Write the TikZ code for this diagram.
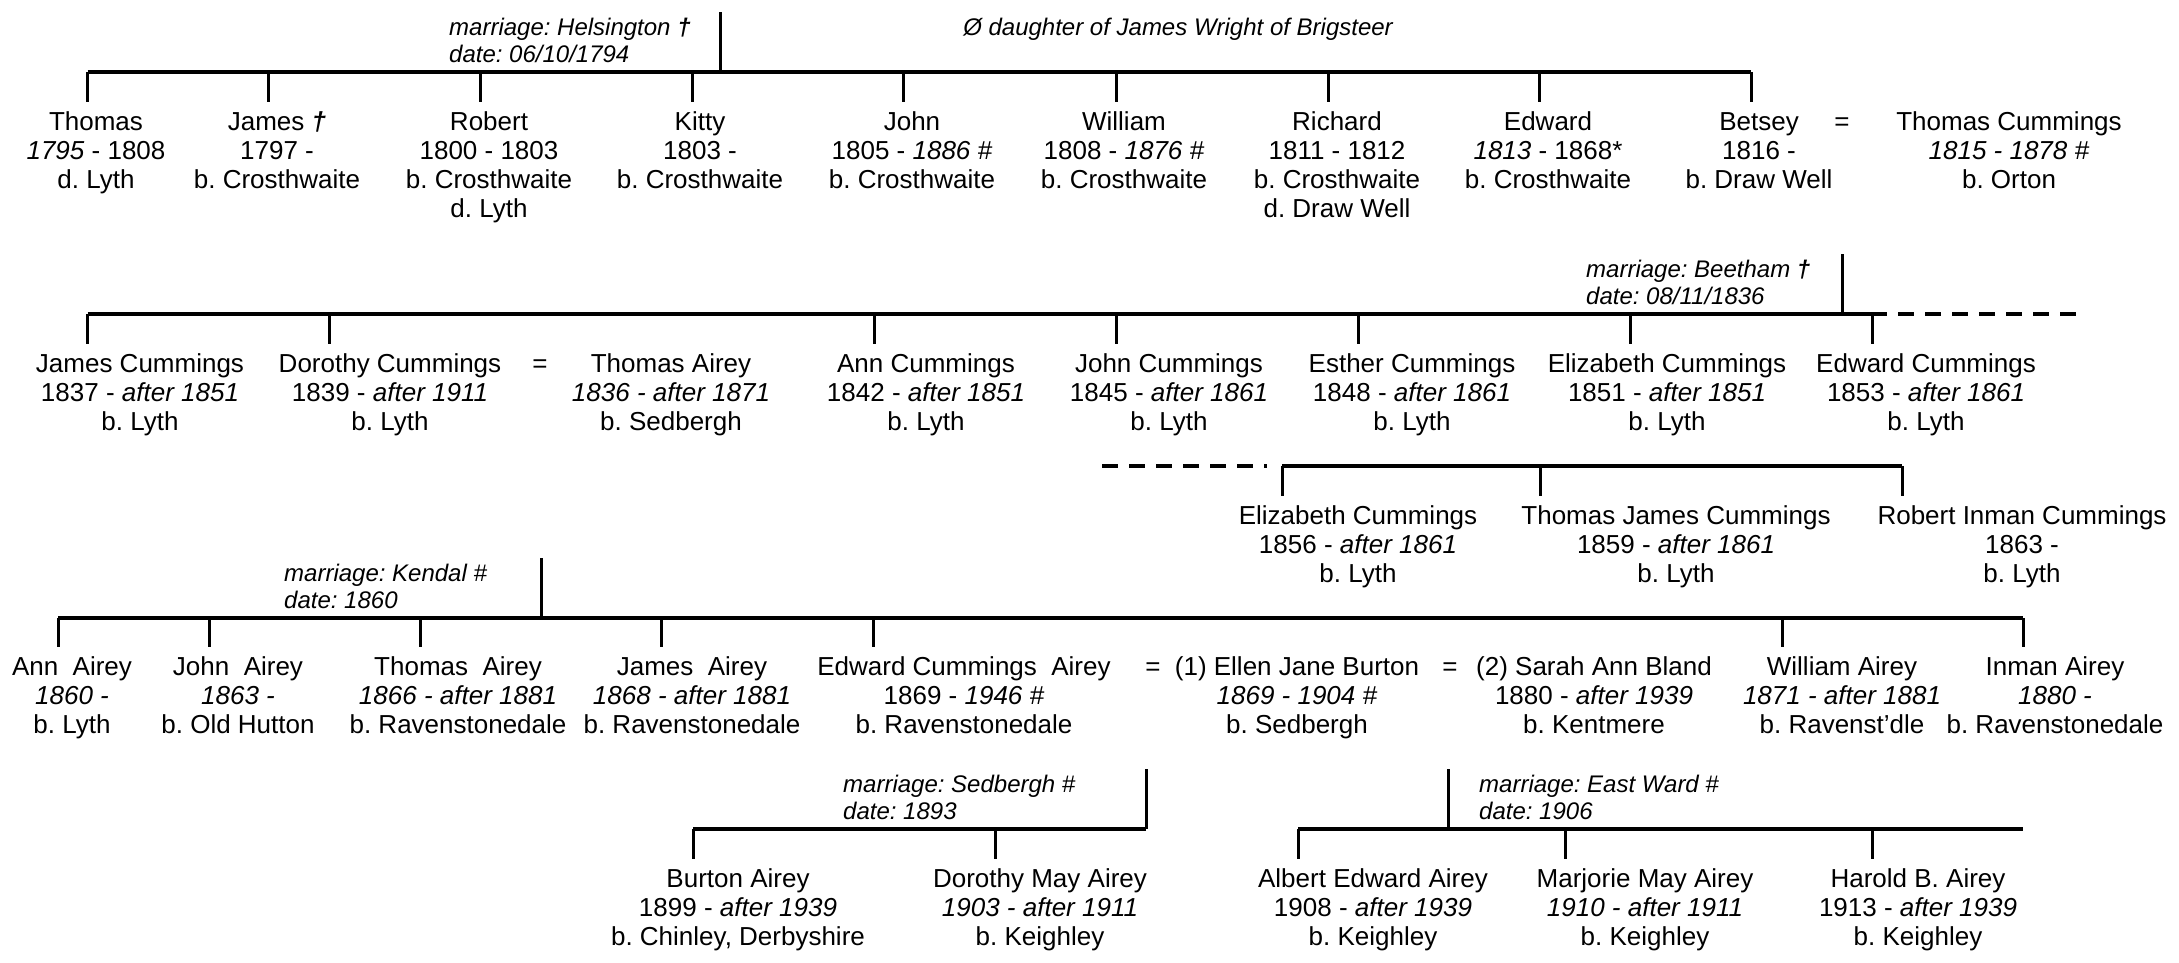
\documentclass[tikz,border=0pt]{standalone}
\usepackage{fontspec}
\setmainfont{Liberation Sans}
\frenchspacing
\newcommand\Fstrut{\rule{0pt}{28pt}}
\newcommand\Astrut{\rule{0pt}{20pt}}
\newcommand\dg{\textbf{\textit{†}}}
\begin{document}
\begin{tikzpicture}[x=1pt,y=-1pt,
  person/.style={anchor=north,inner sep=0pt,align=center,font=\fontsize{26}{29.2}\selectfont},
  annot/.style={anchor=north west,inner sep=0pt,align=left,font=\fontsize{24}{27.6}\selectfont\itshape},
  note/.style={anchor=base,inner sep=0pt,font=\fontsize{24}{27.6}\selectfont\itshape},
  eqs/.style={anchor=base,inner sep=0pt,font=\fontsize{26}{29.2}\selectfont},
  bar/.style={line width=4.5pt},
  drop/.style={line width=3pt},
  dashbar/.style={line width=4.5pt,dash pattern=on 16pt off 11pt}]
\useasboundingbox (0,0) rectangle (2179,962);

% ---------------- Row 1 ----------------
\coordinate (b1L) at (87.5,72);
\coordinate (b1R) at (1751,72);
\coordinate (m1) at (720,12);
\draw[bar] (b1L) -- (b1R);
\draw[drop] (m1) -- (m1 |- b1L);
\node[annot] (a1) at (449,15) {\Astrut marriage: Helsington \dg\\date: 06/10/1794};
\node[note] (wife) at (1178,35) {Ø daughter of James Wright of Brigsteer};

\node[person] (p11) at (96,102) {\Fstrut Thomas\\\textit{1795} - 1808\\d. Lyth};
\node[person] (p12) at (277,102) {\Fstrut James \dg\\1797 -\\b. Crosthwaite};
\node[person] (p13) at (489,102) {\Fstrut Robert\\1800 - 1803\\b. Crosthwaite\\d. Lyth};
\node[person] (p14) at (700,102) {\Fstrut Kitty\\1803 -\\b. Crosthwaite};
\node[person] (p15) at (912,102) {\Fstrut John\\1805 - \textit{1886 \#}\\b. Crosthwaite};
\node[person] (p16) at (1124,102) {\Fstrut William\\1808 - \textit{1876 \#}\\b. Crosthwaite};
\node[person] (p17) at (1337,102) {\Fstrut Richard\\1811 - 1812\\b. Crosthwaite\\d. Draw Well};
\node[person] (p18) at (1548,102) {\Fstrut Edward\\\textit{1813} - 1868*\\b. Crosthwaite};
\node[person] (p19) at (1759,102) {\Fstrut Betsey\\1816 -\\b. Draw Well};
\node[eqs] (e1) at (1842,130) {=};
\node[person] (p1s) at (2009,102) {\Fstrut Thomas Cummings\\\textit{1815 - 1878 \#}\\b. Orton};

\coordinate (d11) at (87.5,72);
\coordinate (d12) at (268.7,72);
\coordinate (d13) at (480.5,72);
\coordinate (d14) at (692,72);
\coordinate (d15) at (903.5,72);
\coordinate (d16) at (1116.5,72);
\coordinate (d17) at (1328.6,72);
\coordinate (d18) at (1539.8,72);
\coordinate (d19) at (1751,72);
\foreach \i in {1,...,9} {\draw[drop] (d1\i) -- (d1\i |- p1\i.north);}

% ---------------- Row 2 ----------------
\coordinate (b2L) at (87.5,314);
\coordinate (b2R) at (1887,314);
\coordinate (x2a) at (1898,314);
\coordinate (x2b) at (2080,314);
\coordinate (m2) at (1842,254);
\draw[bar] (b2L) -- (b2R);
\draw[dashbar] (x2a) -- (x2b);
\draw[drop] (m2) -- (m2 |- b2L);
\node[annot] (a2) at (1586,257) {\Astrut marriage: Beetham \dg\\date: 08/11/1836};

\node[person] (p21) at (140,344) {\Fstrut James Cummings\\1837 - \textit{after 1851}\\b. Lyth};
\node[person] (p22) at (390,344) {\Fstrut Dorothy Cummings\\1839 - \textit{after 1911}\\b. Lyth};
\node[eqs] (e2) at (540,372) {=};
\node[person] (p2s) at (671,344) {\Fstrut Thomas Airey\\\textit{1836 - after 1871}\\b. Sedbergh};
\node[person] (p23) at (926,344) {\Fstrut Ann Cummings\\1842 - \textit{after 1851}\\b. Lyth};
\node[person] (p24) at (1169,344) {\Fstrut John Cummings\\1845 - \textit{after 1861}\\b. Lyth};
\node[person] (p25) at (1412,344) {\Fstrut Esther Cummings\\1848 - \textit{after 1861}\\b. Lyth};
\node[person] (p26) at (1667,344) {\Fstrut Elizabeth Cummings\\1851 - \textit{after 1851}\\b. Lyth};
\node[person] (p27) at (1926,344) {\Fstrut Edward Cummings\\1853 - \textit{after 1861}\\b. Lyth};

\coordinate (d21) at (87.5,314);
\coordinate (d22) at (329,314);
\coordinate (d23) at (874,314);
\coordinate (d24) at (1116.5,314);
\coordinate (d25) at (1358.6,314);
\coordinate (d26) at (1630,314);
\coordinate (d27) at (1872,314);
\foreach \i in {1,...,7} {\draw[drop] (d2\i) -- (d2\i |- p2\i.north);}

% ---------------- Row 3 ----------------
\coordinate (x3a) at (1102,466);
\coordinate (x3b) at (1267,466);
\coordinate (b3L) at (1282,466);
\coordinate (b3R) at (1902,466);
\draw[dashbar] (x3a) -- (x3b);
\draw[bar] (b3L) -- (b3R);

\node[person] (p31) at (1358,496) {\Fstrut Elizabeth Cummings\\1856 - \textit{after 1861}\\b. Lyth};
\node[person] (p32) at (1676,496) {\Fstrut Thomas James Cummings\\1859 - \textit{after 1861}\\b. Lyth};
\node[person] (p33) at (2022,496) {\Fstrut Robert Inman Cummings\\1863 -\\b. Lyth};

\coordinate (d31) at (1282,466);
\coordinate (d32) at (1540,466);
\coordinate (d33) at (1902,466);
\foreach \i in {1,...,3} {\draw[drop] (d3\i) -- (d3\i |- p3\i.north);}

% ---------------- Row 4 ----------------
\coordinate (b4L) at (58,618);
\coordinate (b4R) at (2023,618);
\coordinate (m4) at (541,558);
\draw[bar] (b4L) -- (b4R);
\draw[drop] (m4) -- (m4 |- b4L);
\node[annot] (a4) at (284,561) {\Astrut marriage: Kendal \#\\date: 1860};

\node[person] (p41) at (72,647) {\Fstrut Ann\ \ Airey\\\textit{1860 -}\\b. Lyth};
\node[person] (p42) at (238,647) {\Fstrut John\ \ Airey\\\textit{1863 -}\\b. Old Hutton};
\node[person] (p43) at (458,647) {\Fstrut Thomas\ \ Airey\\\textit{1866 - after 1881}\\b. Ravenstonedale};
\node[person] (p44) at (692,647) {\Fstrut James\ \ Airey\\\textit{1868 - after 1881}\\b. Ravenstonedale};
\node[person] (p45) at (964,647) {\Fstrut Edward Cummings\ \ Airey\\1869 - \textit{1946 \#}\\b. Ravenstonedale};
\node[eqs] (e41) at (1153,675) {=};
\node[person] (p4w1) at (1297,647) {\Fstrut (1) Ellen Jane Burton\\\textit{1869 - 1904 \#}\\b. Sedbergh};
\node[eqs] (e42) at (1450,675) {=};
\node[person] (p4w2) at (1594,647) {\Fstrut (2) Sarah Ann Bland\\1880 - \textit{after 1939}\\b. Kentmere};
\node[person] (p46) at (1842,647) {\Fstrut William Airey\\\textit{1871 - after 1881}\\b. Ravenst’dle};
\node[person] (p47) at (2055,647) {\Fstrut Inman Airey\\\textit{1880 -}\\b. Ravenstonedale};

\coordinate (d41) at (58,618);
\coordinate (d42) at (209,618);
\coordinate (d43) at (420,618);
\coordinate (d44) at (661,618);
\coordinate (d45) at (873,618);
\coordinate (d46) at (1782,618);
\coordinate (d47) at (2023,618);
\foreach \i in {1,...,7} {\draw[drop] (d4\i) -- (d4\i |- p4\i.north);}

% ---------------- Row 5 ----------------
\coordinate (b5L) at (693,829);
\coordinate (b5R) at (1146,829);
\coordinate (m5) at (1146,769);
\draw[bar] (b5L) -- (b5R);
\draw[drop] (m5) -- (m5 |- b5L);
\node[annot] (a5) at (843,772) {\Astrut marriage: Sedbergh \#\\date: 1893};

\coordinate (c5L) at (1298,829);
\coordinate (c5R) at (2023,829);
\coordinate (n5) at (1448,769);
\draw[bar] (c5L) -- (c5R);
\draw[drop] (n5) -- (n5 |- c5L);
\node[annot] (a6) at (1479,772) {\Astrut marriage: East Ward \#\\date: 1906};

\node[person] (p51) at (738,859) {\Fstrut Burton Airey\\1899 - \textit{after 1939}\\b. Chinley, Derbyshire};
\node[person] (p52) at (1040,859) {\Fstrut Dorothy May Airey\\\textit{1903 - after 1911}\\b. Keighley};
\node[person] (p53) at (1373,859) {\Fstrut Albert Edward Airey\\1908 - \textit{after 1939}\\b. Keighley};
\node[person] (p54) at (1645,859) {\Fstrut Marjorie May Airey\\\textit{1910 - after 1911}\\b. Keighley};
\node[person] (p55) at (1918,859) {\Fstrut Harold B. Airey\\1913 - \textit{after 1939}\\b. Keighley};

\coordinate (d51) at (693,829);
\coordinate (d52) at (995,829);
\coordinate (d53) at (1298,829);
\coordinate (d54) at (1565,829);
\coordinate (d55) at (1872,829);
\foreach \i in {1,...,5} {\draw[drop] (d5\i) -- (d5\i |- p5\i.north);}
\end{tikzpicture}
\end{document}
